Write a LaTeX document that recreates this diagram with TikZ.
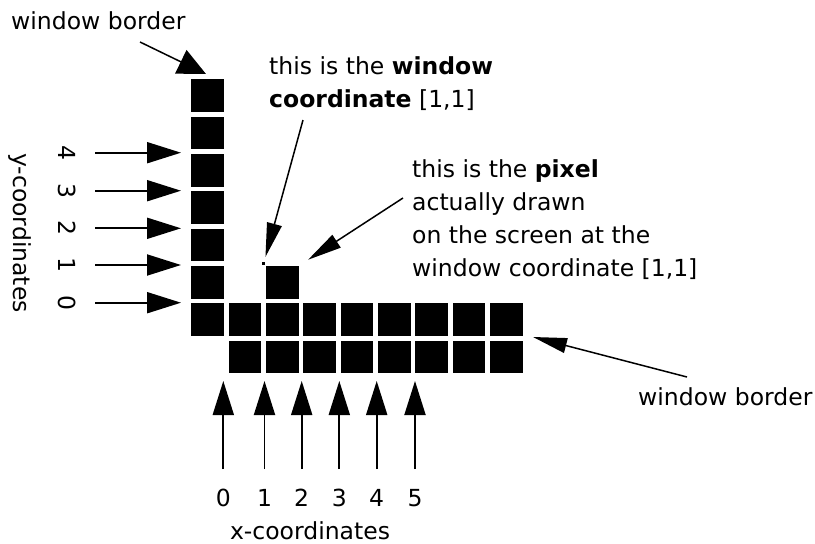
\documentclass[tikz,border=0pt]{standalone}
\usepackage{fontspec}
\setmainfont{DejaVu Sans}
\usetikzlibrary{arrows.meta, positioning}

\tikzset{
    cell/.style={fill=black, minimum size=32.7pt, inner sep=0pt},
    lbl/.style={font=\fontsize{23.5}{33}\selectfont, inner sep=0pt},
    ptr/.style={line width=1.9pt, -{Triangle[length=34pt, width=21pt]}},
    slimptr/.style={line width=1.5pt, -{Triangle[length=34pt, width=15pt]}},
}

\begin{document}
\begin{tikzpicture}[x=1pt, y=-1pt]
    \useasboundingbox (0,0) rectangle (815,544);

    % border squares
    \foreach \r in {0,...,6}
        \node[cell] (sq0-\r) at (207.6, {95.6+37.33*\r}) {};
    \foreach \c in {1,...,8} {
        \node[cell] (sq\c-6) at ({207.6+37.33*\c}, 319.6) {};
        \node[cell] (sq\c-7) at ({207.6+37.33*\c}, 356.9) {};
    }
    \node[cell] (pix) at (282.3, 282.3) {};
    \node[fill=black, inner sep=0pt, minimum size=3.5pt, outer sep=5pt] (wc) at (263.6, 263.6) {};

    % texts
    \node[lbl, anchor=base west] (wbtop) at (11, 29) {window border};
    \node[lbl, anchor=north west, align=left] (wctext) at (269, 56) {this is the \textbf{window}\\\textbf{coordinate} [1,1]};
    \node[lbl, anchor=north west, align=left] (pxtext) at (412, 159) {this is the \textbf{pixel}\\actually drawn\\on the screen at the\\window coordinate [1,1]};
    \node[lbl, anchor=base west] (wbright) at (638, 405) {window border};
    \node[lbl, rotate=-90] (ytitle) at (20, 233) {y-coordinates};
    \node[lbl, anchor=base] (xtitle) at (310, 539) {x-coordinates};

    % coordinate arrows
    \foreach \n/\y in {4/152.7, 3/190.7, 2/228.3, 1/265, 0/302.7} {
        \node[lbl, rotate=-90] (ylab\n) at (67, \y) {\n};
        \coordinate (ytail\n) at (95, \y);
        \coordinate (yhead\n) at (181, \y);
        \draw[ptr] (ytail\n) -- (yhead\n);
    }
    \foreach \n/\x in {0/223.3, 1/264.5, 2/301.7, 3/339.3, 4/376.7, 5/415} {
        \node[lbl] (xlab\n) at (\x, 498) {\n};
        \coordinate (xtail\n) at (\x, 469);
        \coordinate (xhead\n) at (\x, 381);
        \draw[ptr] (xtail\n) -- (xhead\n);
    }

    % pointers
    \coordinate (wbtail1) at (140, 42);
    \coordinate (wbhead1) at (206, 74);
    \draw[line width=1.5pt, -{Triangle[length=28pt, width=26pt]}] (wbtail1) -- (wbhead1);
    \coordinate (wctail) at (303, 120);
    \draw[slimptr] (wctail) -- (wc);
    \coordinate (pxtail) at (403, 198);
    \draw[slimptr, shorten >=11pt] (pxtail) -- (pix.north east);
    \coordinate (wbtail2) at (687, 377);
    \coordinate (wbhead2) at (533, 337);
    \draw[slimptr] (wbtail2) -- (wbhead2);
\end{tikzpicture}
\end{document}
